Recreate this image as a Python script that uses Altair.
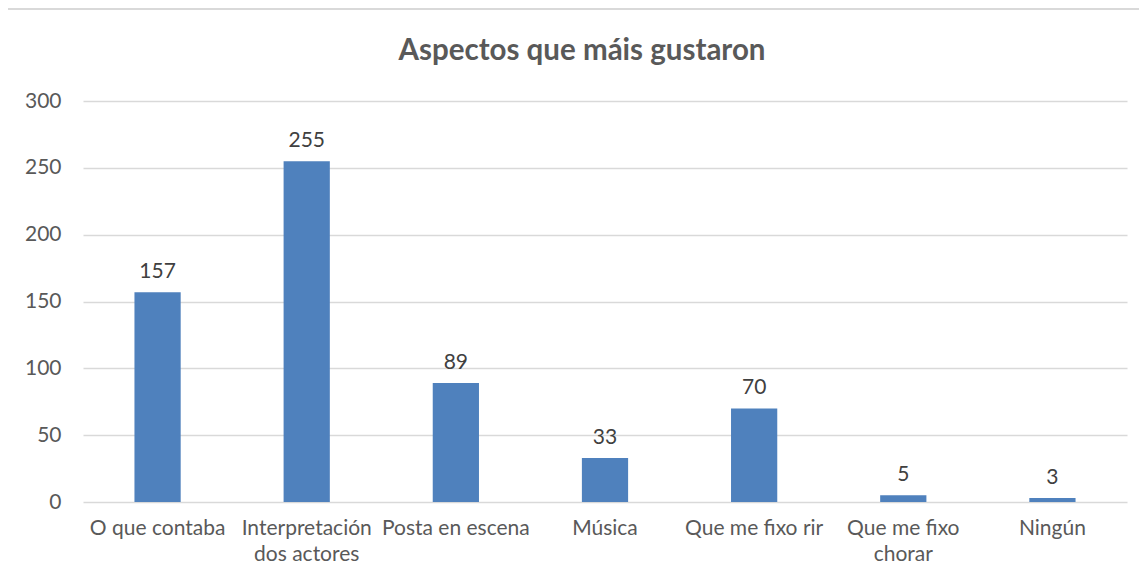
import altair as alt
import pandas as pd

categories = ["O que contaba", "Interpretación dos actores", "Posta en escena",
              "Música", "Que me fixo rir", "Que me fixo chorar", "Ningún"]
values = [157, 255, 89, 33, 70, 5, 3]
title_text = "Aspectos que máis gustaron"

df = pd.DataFrame({"cat": categories, "val": values})

label_expr = ("datum.value == 'Interpretación dos actores' ? ['Interpretación','dos actores'] : "
              "(datum.value == 'Que me fixo chorar' ? ['Que me fixo','chorar'] : datum.value)")

FONT = "Lato"
GREY = "#595959"

base = alt.Chart(df).encode(
    x=alt.X("cat:N", sort=categories, title=None,
            scale=alt.Scale(paddingInner=0.69, paddingOuter=0.345),
            axis=alt.Axis(labelExpr=label_expr, labelAngle=0, labelFontSize=21,
                          labelColor=GREY, labelFont=FONT, ticks=False, domain=False,
                          labelPadding=15, labelLineHeight=26)),
)

bars = base.mark_bar(color="#4F81BD").encode(
    y=alt.Y("val:Q", title=None,
            scale=alt.Scale(domain=[0, 300]),
            axis=alt.Axis(values=[0, 50, 100, 150, 200, 250, 300], labelFontSize=21,
                          labelColor=GREY, labelFont=FONT, ticks=False, domain=False,
                          labelPadding=22, gridColor="#D9D9D9", gridWidth=1.3))
)

text = base.mark_text(baseline="bottom", dy=-10, fontSize=21, color="#404040", font=FONT).encode(
    y="val:Q", text="val:Q"
)

frame = alt.Chart(df).mark_rect(fill=None, stroke="#D9D9D9", strokeWidth=1.3).encode(
    x=alt.value(-76), x2=alt.value(1100), y=alt.value(-92), y2=alt.value(500)
)

title = alt.Chart(pd.DataFrame({"t": [title_text]})).mark_text(
    fontSize=29.5, font=FONT, fontWeight="bold", color=GREY, baseline="middle", align="center"
).encode(x=alt.value(499), y=alt.value(-50), text="t:N")

chart = alt.layer(frame, title, bars, text).properties(
    width=1044, height=401,
    autosize=alt.AutoSizeParams(type="none"),
    padding={"left": 75, "top": 93, "right": 12, "bottom": 72},
).configure_view(stroke=None)

chart.save("out.html", embed_options={"renderer": "svg", "actions": False})
